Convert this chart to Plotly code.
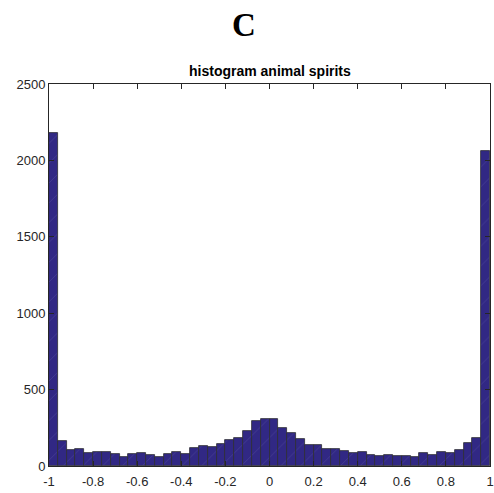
import numpy as np
import plotly.graph_objects as go

# histogram bin edges (50 bins from -1 to 1)
bin_edges = np.linspace(-1, 1, 51)
counts = [2180, 163, 105, 111, 85, 89, 89, 81, 59, 81,
          83, 74, 59, 78, 92, 76, 116, 131, 124, 142,
          170, 181, 231, 296, 307, 307, 246, 216, 174, 140,
          135, 109, 109, 100, 87, 89, 72, 65, 72, 63,
          63, 59, 83, 70, 89, 85, 107, 148, 181, 2060]
x_ticks = [-1, -0.8, -0.6, -0.4, -0.2, 0, 0.2, 0.4, 0.6, 0.8, 1]
x_tick_labels = ["-1", "-0.8", "-0.6", "-0.4", "-0.2", "0", "0.2", "0.4", "0.6", "0.8", "1"]
y_ticks = [0, 500, 1000, 1500, 2000, 2500]
y_tick_labels = ["0", "500", "1000", "1500", "2000", "2500"]

centers = (bin_edges[:-1] + bin_edges[1:]) / 2
widths = np.diff(bin_edges)

fig = go.Figure()
fig.add_trace(go.Bar(
    x=centers, y=counts, width=widths,
    marker=dict(
        color="rgb(49,40,132)",
        line=dict(color="rgb(45,45,50)", width=0.8),
        pattern=dict(shape="/", fgcolor="rgba(170,170,215,0.5)", size=14, solidity=0.04),
    ),
    showlegend=False,
))

axis_common = dict(
    showline=True, linecolor="#262626", linewidth=1, mirror="ticks",
    ticks="inside", ticklen=5, tickcolor="#262626", showgrid=False, zeroline=False,
    automargin=False,
    tickfont=dict(family="Liberation Sans, Arial", size=13, color="#262626"),
)

fig.update_layout(
    width=494, height=493,
    margin=dict(l=49, r=4, t=84, b=27),
    paper_bgcolor="white", plot_bgcolor="white",
    bargap=0,
    title=dict(text="<b>C</b>", xref="container", yref="container",
               x=244/494, y=1-24/493, xanchor="center", yanchor="middle",
               font=dict(family="Liberation Serif, DejaVu Serif", size=33, color="black")),
    xaxis=dict(range=[-1, 1], tickvals=x_ticks, ticktext=x_tick_labels,
               ticklabeloverflow="allow", ticklabelstandoff=3, **axis_common),
    yaxis=dict(range=[0, 2500], tickvals=y_ticks, ticktext=y_tick_labels, **axis_common),
    annotations=[dict(text="<b>histogram animal spirits</b>", xref="paper", yref="paper",
                      x=0.5, y=1.034, xanchor="center", yanchor="middle", showarrow=False,
                      font=dict(family="Liberation Sans, Arial", size=14, color="black"))],
)

fig.write_html("out.html")
